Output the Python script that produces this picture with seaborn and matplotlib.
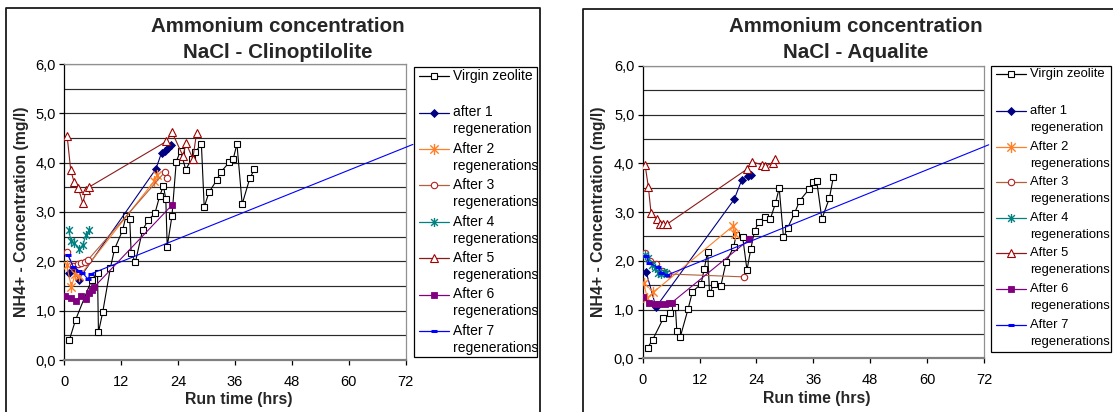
import numpy as np
import matplotlib
matplotlib.use("Agg")
import matplotlib.pyplot as plt
import seaborn as sns
from matplotlib.path import Path
from matplotlib.lines import Line2D
from matplotlib.patches import Rectangle
from matplotlib.ticker import FuncFormatter, MultipleLocator

sns.set_theme(style="white")
plt.rcParams['font.family'] = ['Liberation Sans', 'DejaVu Sans']

# ---------------- data : Clinoptilolite (left) ----------------
cl_virgin_x = [1.05, 2.4, 5.8, 7.0, 7.2, 8.1, 9.7, 10.6, 12.3, 13.0, 13.8, 14.1, 15.0, 16.5, 17.7, 19.1, 20.1, 20.9,
               21.4, 21.7, 22.7, 23.6, 24.5, 25.6, 26.9, 27.6, 28.9, 29.5, 30.5, 32.1, 33.0, 34.8, 35.6, 36.4, 37.5,
               39.1, 40.1]
cl_virgin_y = [0.40, 0.82, 1.63, 1.77, 0.56, 0.97, 1.86, 2.25, 2.63, 2.92, 2.85, 2.16, 1.99, 2.63, 2.84, 2.97, 3.32, 3.53,
               3.26, 2.30, 2.92, 4.02, 4.24, 3.86, 4.08, 4.21, 4.38, 3.10, 3.40, 3.64, 3.81, 4.01, 4.07, 4.38, 3.16,
               3.68, 3.87]
cl_r1_x = [0.9, 2.0, 3.0, 19.3, 20.5, 21.2, 21.9, 22.6]
cl_r1_y = [1.76, 1.82, 1.63, 3.87, 4.20, 4.24, 4.30, 4.35]
cl_r2_x = [0.5, 1.5, 2.3, 3.2, 18.9, 19.5]
cl_r2_y = [1.92, 1.48, 1.75, 1.70, 3.62, 3.74]
cl_r3_x = [0.5, 1.9, 2.8, 3.6, 4.3, 4.9, 21.2, 21.7]
cl_r3_y = [2.19, 1.90, 1.95, 1.96, 1.99, 2.02, 3.81, 3.68]
cl_r4_x = [0.9, 1.45, 2.05, 3.2, 3.95, 4.55, 5.3]
cl_r4_y = [2.63, 2.41, 2.37, 2.26, 2.34, 2.53, 2.63]
cl_r5_x = [0.6, 1.35, 2.05, 2.95, 3.9, 4.6, 5.3, 21.5, 22.7, 25.0, 25.7, 27.1, 27.9]
cl_r5_y = [4.54, 3.85, 3.61, 3.49, 3.18, 3.45, 3.51, 4.43, 4.62, 4.14, 4.39, 4.08, 4.61]
cl_r6_x = [0.2, 1.5, 2.4, 3.5, 4.5, 5.2, 5.8, 6.2, 22.7]
cl_r6_y = [1.30, 1.25, 1.20, 1.30, 1.23, 1.35, 1.42, 1.47, 3.14]
cl_r7_x = [0.8, 1.9, 3.0, 3.8, 4.9, 5.7, 73.5]
cl_r7_y = [2.12, 1.89, 1.81, 1.77, 1.65, 1.75, 4.37]

# ---------------- data : Aqualite (right) ----------------
aq_virgin_x = [1.05, 2.1, 4.35, 5.8, 6.9, 7.2, 7.9, 9.6, 10.5, 12.3, 13.0, 13.7, 14.1, 15.0, 16.5, 17.6, 19.2, 19.7,
               21.1, 22.0, 22.8, 23.6, 24.5, 25.7, 26.9, 28.0, 28.8, 29.7, 30.6, 32.1, 33.1, 35.1, 36.0, 36.7, 37.8,
               39.4, 40.2]
aq_virgin_y = [0.22, 0.38, 0.82, 0.92, 1.05, 0.55, 0.43, 1.02, 1.37, 1.52, 1.84, 2.19, 1.33, 1.52, 1.49, 1.98, 2.28, 2.53,
               2.48, 1.81, 2.24, 2.62, 2.79, 2.90, 2.85, 3.18, 3.49, 2.48, 2.68, 2.99, 3.23, 3.47, 3.62, 3.64, 2.86,
               3.29, 3.71]
aq_r1_x = [0.7, 2.8, 19.3, 20.9, 22.2, 22.8]
aq_r1_y = [1.78, 1.05, 3.26, 3.66, 3.74, 3.75]
aq_r2_x = [0.2, 1.0, 2.2, 19.0, 19.5]
aq_r2_y = [1.54, 1.23, 1.35, 2.71, 2.56]
aq_r3_x = [0.4, 1.5, 2.9, 4.0, 5.3, 21.4]
aq_r3_y = [2.15, 2.00, 1.93, 1.80, 1.73, 1.67]
aq_r4_x = [0.5, 1.2, 1.9, 2.6, 3.2, 3.9, 4.5, 5.0]
aq_r4_y = [2.12, 2.05, 1.92, 1.85, 1.75, 1.72, 1.78, 1.74]
aq_r5_x = [0.5, 1.2, 1.75, 2.95, 3.65, 4.35, 5.1, 22.0, 23.0, 25.2, 25.9, 27.4, 28.0]
aq_r5_y = [3.97, 3.51, 2.99, 2.86, 2.75, 2.75, 2.75, 3.88, 4.03, 3.97, 3.94, 4.01, 4.08]
aq_r6_x = [0.0, 1.4, 2.5, 3.5, 4.6, 5.6, 6.1, 22.5]
aq_r6_y = [1.26, 1.14, 1.11, 1.11, 1.12, 1.13, 1.14, 2.44]
aq_r7_x = [0.7, 1.4, 3.2, 3.9, 5.2, 73.0]
aq_r7_y = [2.10, 1.95, 1.87, 1.76, 1.71, 4.38]

series_labels = ["Virgin zeolite", "after 1\nregeneration", "After 2\nregenerations", "After 3\nregenerations",
                 "After 4\nregenerations", "After 5\nregenerations", "After 6\nregenerations",
                 "After 7\nregenerations"]
x_ticks = [0, 12, 24, 36, 48, 60, 72]
y_ticks = [0, 1, 2, 3, 4, 5, 6]

# ---------------- styles ----------------
AST = Path([(0, -1), (0, 1), (-0.75, -0.75), (0.75, 0.75), (-0.75, 0.75), (0.75, -0.75)],
           [Path.MOVETO, Path.LINETO] * 3)
styles = [
    dict(color="black", marker="s", markersize=4.6, markerfacecolor="white", markeredgecolor="black", markeredgewidth=0.8),
    dict(color="#000080", marker="D", markersize=4.2, markerfacecolor="#000080", markeredgecolor="#000080", markeredgewidth=0.6),
    dict(color="#FF7F27", marker=AST, markersize=8, markerfacecolor="none", markeredgecolor="#FF7F27", markeredgewidth=1.0),
    dict(color="#B0603A", marker="o", markersize=4.6, markerfacecolor="white", markeredgecolor="#B22222", markeredgewidth=0.8),
    dict(color="#008080", marker=AST, markersize=6.5, markerfacecolor="none", markeredgecolor="#008080", markeredgewidth=1.0),
    dict(color="#8B1A1A", marker="^", markersize=5.5, markerfacecolor="white", markeredgecolor="#A00000", markeredgewidth=0.8),
    dict(color="#800080", marker="s", markersize=5.0, markerfacecolor="#800080", markeredgecolor="#800080", markeredgewidth=0.6),
    dict(color="#0000FF", marker="_", markersize=4.5, markerfacecolor="#0000FF", markeredgecolor="#0000FF", markeredgewidth=2.2),
]

W, H = 1113, 412
fig = plt.figure(figsize=(W / 100, H / 100), dpi=100, facecolor="white")


def fx(px):
    return px / W


def fy(py):
    return 1 - py / H


def comma(v, p):
    return f"{v:.1f}".replace(".", ",")


def make_axes(x0, x1, ytop, ybot):
    ax = fig.add_axes([fx(x0), fy(ybot), (x1 - x0) / W, (ybot - ytop) / H])
    ax.set_facecolor("white")
    ax.set_xlim(0, 72)
    ax.set_ylim(0, 6)
    ax.set_xticks(x_ticks)
    ax.set_yticks(y_ticks)
    ax.yaxis.set_major_formatter(FuncFormatter(comma))
    ax.yaxis.set_minor_locator(MultipleLocator(0.5))
    ax.grid(False)
    for yv in np.arange(0.5, 6.01, 0.5):
        ax.axhline(yv, color="#2a2a2a", lw=0.85, zorder=0.5)
    ax.tick_params(axis="both", which="major", direction="out", length=3.5, width=0.9, color="black",
                   labelsize=10.5, labelcolor="black", bottom=True, left=True)
    ax.tick_params(axis="x", pad=7)
    ax.tick_params(axis="y", pad=2.5)
    ax.tick_params(axis="y", which="minor", length=0)
    ax.spines["left"].set_color("black")
    ax.spines["left"].set_linewidth(0.9)
    ax.spines["bottom"].set_color("#808080")
    ax.spines["bottom"].set_linewidth(1.6)
    for s in ("top", "right"):
        ax.spines[s].set_color("#909090")
        ax.spines[s].set_linewidth(0.9)
    ax.set_xlabel("Run time (hrs)", fontsize=11.4, fontweight="bold", va="center")
    ax.set_ylabel("NH4+ - Concentration (mg/l)", fontsize=11.4, fontweight="bold", va="center")
    return ax


def draw_series(ax, xs_list, ys_list):
    n = len(xs_list)
    for i, (xs, ys) in enumerate(zip(xs_list, ys_list)):
        kw = dict(styles[i])
        extra = {}
        if i == n - 1:
            extra = dict(clip_on=False, markevery=list(range(len(xs) - 1)))
        sns.lineplot(x=xs, y=ys, ax=ax, sort=False, estimator=None, legend=False,
                     linewidth=0.8, zorder=3 + i * 0.01, **kw, **extra)


def draw_legend(bx0, by0, bx1, by1, first_y, y_start, step, fs):
    fig.add_artist(Rectangle((fx(bx0), fy(by1)), (bx1 - bx0) / W, (by1 - by0) / H, transform=fig.transFigure,
                             facecolor="white", edgecolor="black", lw=0.9, zorder=5))
    ys = [first_y] + [y_start + step * k for k in range(7)]
    for i, (lab, yy) in enumerate(zip(series_labels, ys)):
        st = styles[i]
        fig.add_artist(Line2D([fx(bx0 + 5), fx(bx0 + 35)], [fy(yy), fy(yy)], transform=fig.transFigure,
                              color=st["color"], lw=0.9, zorder=6))
        fig.add_artist(Line2D([fx(bx0 + 20)], [fy(yy)], transform=fig.transFigure, linestyle="none",
                              marker=st["marker"], markersize=st["markersize"],
                              markerfacecolor=st["markerfacecolor"], markeredgecolor=st["markeredgecolor"],
                              markeredgewidth=st["markeredgewidth"], zorder=7))
        lines = lab.split("\n")
        for j, t in enumerate(lines):
            fig.text(fx(bx0 + 39), fy(yy + 17 * j), t, ha="left", va="center", fontsize=fs, zorder=7,
                     color="black")


def frame(points):
    xs = [fx(p[0]) for p in points]
    ys = [fy(p[1]) for p in points]
    fig.add_artist(Line2D(xs, ys, transform=fig.transFigure, color="#1a1a1a", lw=1.3, zorder=8))


# ---------------- left chart ----------------
axL = make_axes(64.3, 405.8, 64.0, 360.0)
draw_series(axL, [cl_virgin_x, cl_r1_x, cl_r2_x, cl_r3_x, cl_r4_x, cl_r5_x, cl_r6_x, cl_r7_x],
            [cl_virgin_y, cl_r1_y, cl_r2_y, cl_r3_y, cl_r4_y, cl_r5_y, cl_r6_y, cl_r7_y])
axL.xaxis.set_label_coords(0.51, -0.132)
axL.yaxis.set_label_coords(-0.125, 0.5)
fig.text(fx(278), fy(26), "Ammonium concentration", ha="center", va="center", fontsize=14.8, fontweight="bold")
fig.text(fx(278), fy(52), "NaCl - Clinoptilolite", ha="center", va="center", fontsize=14.8, fontweight="bold")
draw_legend(414, 66.7, 537, 356.7, 76, 112.5, 36.4, 10)
frame([(6, 420), (6, 8), (540, 8), (540, 420)])

# ---------------- right chart ----------------
axR = make_axes(642.7, 984.0, 65.8, 358.3)
draw_series(axR, [aq_virgin_x, aq_r1_x, aq_r2_x, aq_r3_x, aq_r4_x, aq_r5_x, aq_r6_x, aq_r7_x],
            [aq_virgin_y, aq_r1_y, aq_r2_y, aq_r3_y, aq_r4_y, aq_r5_y, aq_r6_y, aq_r7_y])
axR.xaxis.set_label_coords(0.51, -0.139)
axR.yaxis.set_label_coords(-0.13, 0.5)
fig.text(fx(856), fy(26), "Ammonium concentration", ha="center", va="center", fontsize=14.8, fontweight="bold")
fig.text(fx(856), fy(52), "NaCl - Aqualite", ha="center", va="center", fontsize=14.8, fontweight="bold")
draw_legend(991, 66.0, 1111, 352.0, 74, 111, 35.6, 9.4)
frame([(583, 420), (583, 8.7), (1120, 8.7)])

fig.savefig("out.png", dpi=100, facecolor="white")
